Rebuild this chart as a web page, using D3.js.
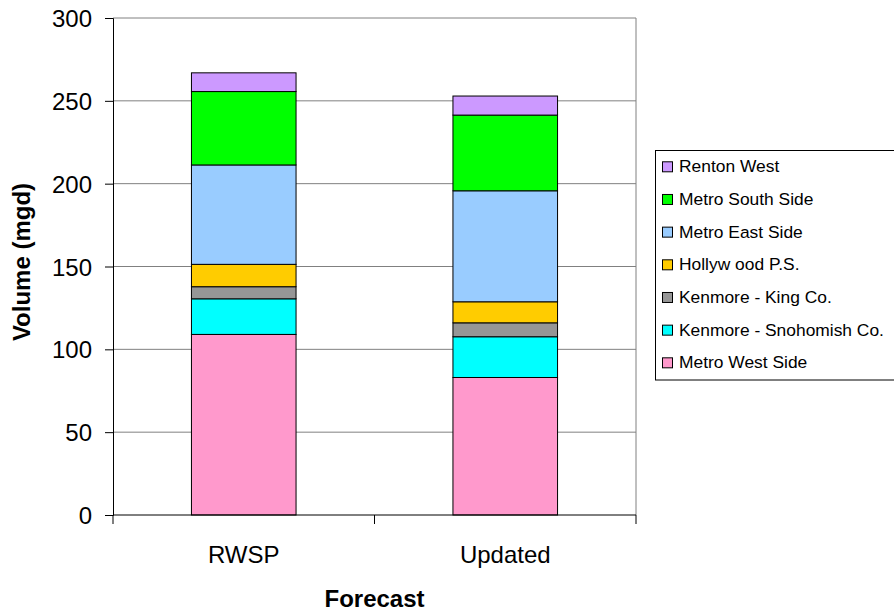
<!DOCTYPE html>
<html>
<head>
<meta charset="utf-8">
<script src="https://cdn.jsdelivr.net/npm/d3@7"></script>
<style>
  body { margin: 0; background: #fff; overflow: hidden; }
  svg { display: block; font-family: "Liberation Sans", Arial, sans-serif; }
</style>
</head>
<body>
<svg id="chart" width="894" height="611"></svg>
<script>
// Forecast scenarios along the x axis
const categories = ["RWSP", "Updated"];

// Service areas, stacked from the bottom up
const seriesNames = [
  "Metro West Side",
  "Kenmore - Snohomish Co.",
  "Kenmore - King Co.",
  "Hollyw ood P.S.",
  "Metro East Side",
  "Metro South Side",
  "Renton West"
];
const seriesColors = ["#ff99cc", "#00ffff", "#969696", "#ffcc00", "#99ccff", "#00ff00", "#cc99ff"];

// Volume (mgd) per service area, one value per forecast
const metroWestSide      = [109, 83];
const kenmoreSnohomish   = [21.5, 24.6];
const kenmoreKing        = [7.3, 8.4];
const hollywoodPS        = [13.5, 12.7];
const metroEastSide      = [60, 67];
const metroSouthSide     = [44.3, 45.7];
const rentonWest         = [11.3, 11.5];

const yTicks = [0, 50, 100, 150, 200, 250, 300];

const seriesValues = [metroWestSide, kenmoreSnohomish, kenmoreKing, hollywoodPS,
                      metroEastSide, metroSouthSide, rentonWest];

const rows = categories.map((c, i) => {
  const r = { category: c };
  seriesNames.forEach((s, j) => { r[s] = seriesValues[j][i]; });
  return r;
});

const svg = d3.select("#chart");
const plot = { left: 113, right: 636, top: 18, bottom: 515 };

const x = d3.scaleBand().domain(categories).range([plot.left, plot.right]).paddingInner(0.6).paddingOuter(0.3);
const y = d3.scaleLinear().domain([0, 300]).range([plot.bottom, plot.top]);

// horizontal gridlines
svg.append("g").selectAll("line").data(yTicks.filter(d => d > 0)).join("line")
  .attr("x1", plot.left).attr("x2", plot.right)
  .attr("y1", d => y(d)).attr("y2", d => y(d))
  .attr("stroke", "#808080").attr("stroke-width", 1);

// right border of plot area
svg.append("line")
  .attr("x1", plot.right).attr("x2", plot.right)
  .attr("y1", plot.top).attr("y2", plot.bottom)
  .attr("stroke", "#808080").attr("stroke-width", 1);

// stacked bars
const stack = d3.stack().keys(seriesNames)(rows);
svg.append("g").selectAll("g").data(stack).join("g")
  .attr("fill", (d, i) => seriesColors[i])
  .selectAll("rect").data(d => d).join("rect")
  .attr("x", d => x(d.data.category))
  .attr("width", x.bandwidth())
  .attr("y", d => y(d[1]))
  .attr("height", d => y(d[0]) - y(d[1]))
  .attr("stroke", "#000").attr("stroke-width", 1);

// y axis
const yAxis = svg.append("g").attr("transform", `translate(${plot.left},0)`)
  .call(d3.axisLeft(y).tickValues(yTicks).tickSize(8).tickPadding(13));
yAxis.select(".domain").attr("stroke", "#000");
yAxis.selectAll("text").attr("font-size", 24).attr("fill", "#000")
  .attr("font-family", "'Liberation Sans', Arial, sans-serif").attr("dy", "0.36em");

// x axis with ticks at category boundaries
const xAxisG = svg.append("g").attr("transform", `translate(0,${plot.bottom})`);
xAxisG.append("line").attr("x1", plot.left).attr("x2", plot.right)
  .attr("y1", 0).attr("y2", 0).attr("stroke", "#000");
const boundaries = [plot.left, (plot.left + plot.right) / 2, plot.right];
xAxisG.selectAll("line.tk").data(boundaries).join("line").attr("class", "tk")
  .attr("x1", d => d).attr("x2", d => d).attr("y1", 0).attr("y2", 9)
  .attr("stroke", "#000");
xAxisG.selectAll("text").data(categories).join("text")
  .attr("x", d => x(d) + x.bandwidth() / 2)
  .attr("y", 47.5)
  .attr("text-anchor", "middle")
  .attr("font-size", 24)
  .text(d => d);

// axis titles
svg.append("text").attr("x", (plot.left + plot.right) / 2).attr("y", 607)
  .attr("text-anchor", "middle").attr("font-size", 24).attr("font-weight", "bold")
  .text("Forecast");
svg.append("text")
  .attr("transform", `translate(30,262) rotate(-90)`)
  .attr("text-anchor", "middle").attr("font-size", 24).attr("font-weight", "bold")
  .text("Volume (mgd)");

// legend
const legend = svg.append("g");
legend.append("rect").attr("x", 655.5).attr("y", 150.5).attr("width", 260).attr("height", 229.5)
  .attr("fill", "#fff").attr("stroke", "#000").attr("stroke-width", 1);
const legendOrder = seriesNames.map((s, i) => ({ name: s, color: seriesColors[i] })).reverse();
const li = legend.selectAll("g.item").data(legendOrder).join("g").attr("class", "item")
  .attr("transform", (d, i) => `translate(0,${172.3 + i * 32.67})`);
li.append("rect").attr("x", 662.5).attr("y", -10.5).attr("width", 10).attr("height", 10)
  .attr("fill", d => d.color).attr("stroke", "#000").attr("stroke-width", 1);
li.append("text").attr("x", 679).attr("y", 0).attr("font-size", 17.4)
  .text(d => d.name);
</script>
</body>
</html>
